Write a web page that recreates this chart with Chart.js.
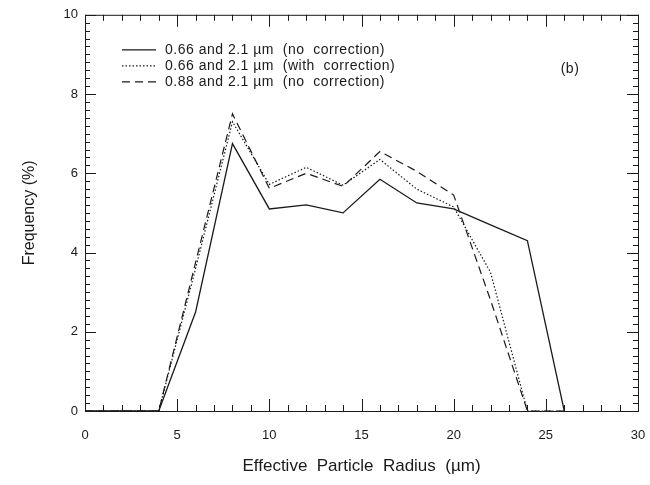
<!DOCTYPE html>
<html>
<head>
<meta charset="utf-8">
<script src="https://cdn.jsdelivr.net/npm/chart.js@4/dist/chart.umd.min.js"></script>
<style>
  html, body { margin: 0; padding: 0; background: #fff; }
  #grafica { display: block; }
</style>
</head>
<body>
<canvas id="grafica" width="650" height="485"></canvas>
<script>
const radio = [0, 2, 4, 6, 8, 10, 12, 14, 16, 18, 20, 22, 24, 26];
const sinCorreccion066 = [0, 0, 0, 2.5, 6.75, 5.1, 5.2, 5.0, 5.85, 5.25, 5.1, 4.7, 4.3, 0];
const conCorreccion066 = [0, 0, 0, 3.6, 7.3, 5.72, 6.15, 5.7, 6.35, 5.6, 5.15, 3.5, 0, 0];
const sinCorreccion088 = [0, 0, 0, 3.75, 7.5, 5.62, 6.0, 5.67, 6.55, 6.05, 5.45, 2.8, 0, 0];
const etiquetas = [
    "0.66 and 2.1 \u00b5m  (no  correction)",
    "0.66 and 2.1 \u00b5m  (with  correction)",
    "0.88 and 2.1 \u00b5m  (no  correction)"
];
const ticksX = [0, 5, 10, 15, 20, 25, 30];
const ticksY = [0, 2, 4, 6, 8, 10];

const fuente = "'Liberation Sans', Arial, sans-serif";
const tinta = "#1a1a1a";

function puntos(valores) {
    return radio.map((r, i) => ({ x: r, y: valores[i] }));
}

// marcas hacia dentro en los cuatro lados, y el marco de arriba/derecha
const marcas = {
    id: "marcas",
    afterDraw(chart) {
        const { ctx, chartArea: a, scales: { x, y } } = chart;
        ctx.save();
        ctx.strokeStyle = tinta;
        ctx.lineWidth = 1;
        ctx.strokeRect(a.left + 0.5, a.top + 0.5, a.right - a.left, a.bottom - a.top);
        ctx.beginPath();
        for (let v = 0; v <= 30; v += 1) {
            const px = Math.round(x.getPixelForValue(v)) + 0.5;
            const largo = v % 5 === 0 ? 12 : 6;
            ctx.moveTo(px, a.bottom); ctx.lineTo(px, a.bottom - largo);
            ctx.moveTo(px, a.top); ctx.lineTo(px, a.top + largo);
        }
        for (let k = 0; k <= 50; k++) {
            const py = Math.round(y.getPixelForValue(k * 0.2)) + 0.5;
            const largo = k % 10 === 0 ? 11 : 5;
            ctx.moveTo(a.left, py); ctx.lineTo(a.left + largo, py);
            ctx.moveTo(a.right, py); ctx.lineTo(a.right - largo, py);
        }
        ctx.stroke();

        // leyenda dentro del área
        ctx.font = "14px " + fuente;
        ctx.letterSpacing = "0.5px";
        ctx.fillStyle = tinta;
        ctx.textBaseline = "middle";
        chart.data.datasets.forEach((ds, i) => {
            const fy = a.top + 35 + i * 16;
            ctx.beginPath();
            ctx.setLineDash(ds.borderDash || []);
            ctx.lineWidth = ds.borderWidth;
            ctx.moveTo(a.left + 37, fy);
            ctx.lineTo(a.left + 71, fy);
            ctx.stroke();
            ctx.setLineDash([]);
            ctx.fillText(ds.label, a.left + 80, fy);
        });
        ctx.textAlign = "center";
        ctx.fillText("(b)", a.left + 485, a.top + 54);
        ctx.restore();
    }
};

new Chart(document.querySelector("#grafica"), {
    type: "line",
    data: {
        datasets: [
            {
                label: etiquetas[0],
                data: puntos(sinCorreccion066),
                borderColor: tinta,
                borderWidth: 1.3,
                borderDash: []
            },
            {
                label: etiquetas[1],
                data: puntos(conCorreccion066),
                borderColor: tinta,
                borderWidth: 1.2,
                borderDash: [1.5, 2]
            },
            {
                label: etiquetas[2],
                data: puntos(sinCorreccion088),
                borderColor: tinta,
                borderWidth: 1.2,
                borderDash: [8, 5]
            }
        ]
    },
    options: {
        responsive: false,
        animation: false,
        layout: { padding: { top: 14, right: 12, left: 0, bottom: 0 } },
        elements: { point: { radius: 0 }, line: { tension: 0 } },
        plugins: { legend: { display: false }, tooltip: { enabled: false } },
        scales: {
            x: {
                type: "linear",
                min: 0,
                max: 30,
                afterBuildTicks: (s) => { s.ticks = ticksX.map((v) => ({ value: v })); },
                afterFit: (s) => { s.height = 74; s.paddingRight = 0; s.paddingLeft = 0; },
                grid: { display: false, drawTicks: false },
                border: { display: false },
                ticks: { padding: 17, color: tinta, font: { family: fuente, size: 13 }, maxRotation: 0 },
                title: {
                    display: true,
                    text: "Effective  Particle  Radius  (\u00b5m)",
                    color: tinta,
                    font: { family: fuente, size: 17 },
                    padding: { top: 0, bottom: 8 }
                }
            },
            y: {
                min: 0,
                max: 10,
                afterBuildTicks: (s) => { s.ticks = ticksY.map((v) => ({ value: v })); },
                afterFit: (s) => { s.width = 85; },
                grid: { display: false, drawTicks: false },
                border: { display: false },
                ticks: { padding: 7, color: tinta, font: { family: fuente, size: 13 } },
                title: {
                    display: true,
                    text: "Frequency (%)",
                    color: tinta,
                    font: { family: fuente, size: 16 },
                    padding: { top: 20, bottom: 0 }
                }
            }
        }
    },
    plugins: [marcas]
});
</script>
</body>
</html>
